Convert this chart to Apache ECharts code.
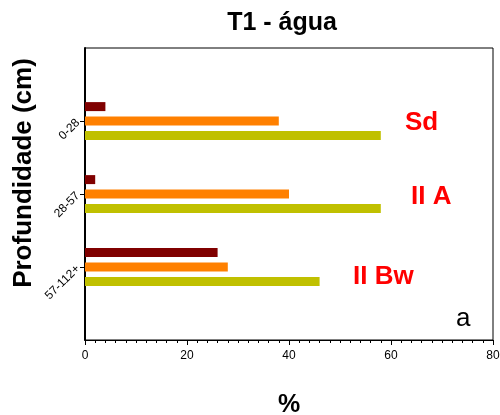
<!DOCTYPE html>
<html><head><meta charset="utf-8">
<script src="https://cdn.jsdelivr.net/npm/echarts@6/dist/echarts.min.js"></script>
<style>html,body{margin:0;padding:0;background:#fff}#c{width:500px;height:415px}</style>
</head><body><div id="c"></div>
<script>
var categories = ['', '0-28', '28-57', '57-112+', ''];
var seriesA = [null, 4, 2, 26, null];   // dark red
var seriesB = [null, 38, 40, 28, null]; // orange
var seriesC = [null, 58, 58, 46, null]; // olive
var xTicks = [0, 20, 40, 60, 80];
var horizons = ['Sd', 'II A', 'II Bw'];

var chart = echarts.init(document.getElementById('c'));
var font = 'Liberation Sans, Arial, sans-serif';
function bar(name, data, color) {
  return { name: name, type: 'bar', data: data, barWidth: 9, barGap: '60%',
    itemStyle: { color: color }, silent: true };
}
chart.setOption({
  animation: false,
  title: { text: 'T1 - água', left: 277, top: 6, textAlign: 'center',
    textStyle: { fontFamily: font, fontSize: 25, fontWeight: 'bold', color: '#000' } },
  grid: { left: 85, right: 7, top: 48, bottom: 75, show: true, borderColor: '#000', borderWidth: 1,
    containLabel: false, outerBoundsMode: 'none' },
  xAxis: {
    type: 'value', min: xTicks[0], max: xTicks[xTicks.length - 1], interval: 20,
    name: '%', nameLocation: 'middle', nameGap: 53,
    nameTextStyle: { fontFamily: font, fontSize: 25, fontWeight: 'bold', color: '#000' },
    axisLine: { show: true, lineStyle: { color: '#000', width: 1 } },
    axisTick: { show: true, length: 5, lineStyle: { color: '#000' } },
    minorTick: { show: true, splitNumber: 10, length: 3, lineStyle: { color: '#000' } },
    splitLine: { show: false },
    axisLabel: { fontFamily: font, fontSize: 12, color: '#000', margin: 10 }
  },
  yAxis: {
    type: 'category', data: categories, inverse: true, boundaryGap: false,
    axisLine: { show: true, lineStyle: { color: '#000', width: 2 } },
    axisTick: { show: true, length: 5, interval: function (i, v) { return v !== ''; }, lineStyle: { color: '#000' } },
    axisLabel: { rotate: 45, fontFamily: font, fontSize: 12, color: '#000', margin: 7,
      interval: function (i, v) { return v !== ''; } },
    splitLine: { show: false }
  },
  series: [bar('A', seriesA, '#800000'), bar('B', seriesB, '#ff8000'), bar('C', seriesC, '#c0c000')],
  graphic: [
    { type: 'text', x: 24, y: 173, rotation: Math.PI / 2,
      style: { text: 'Profundidade (cm)', font: 'bold 26px Liberation Sans', fill: '#000', align: 'center', verticalAlign: 'middle' } },
    { type: 'text', left: 405, top: 110, style: { text: horizons[0], font: 'bold 26px Liberation Sans', fill: '#ff0000' } },
    { type: 'text', left: 411, top: 184, style: { text: horizons[1], font: 'bold 26px Liberation Sans', fill: '#ff0000' } },
    { type: 'text', left: 353, top: 264, style: { text: horizons[2], font: 'bold 26px Liberation Sans', fill: '#ff0000' } },
    { type: 'text', left: 456, top: 306, style: { text: 'a', font: '26px Liberation Sans', fill: '#000' } }
  ]
});
</script></body></html>
